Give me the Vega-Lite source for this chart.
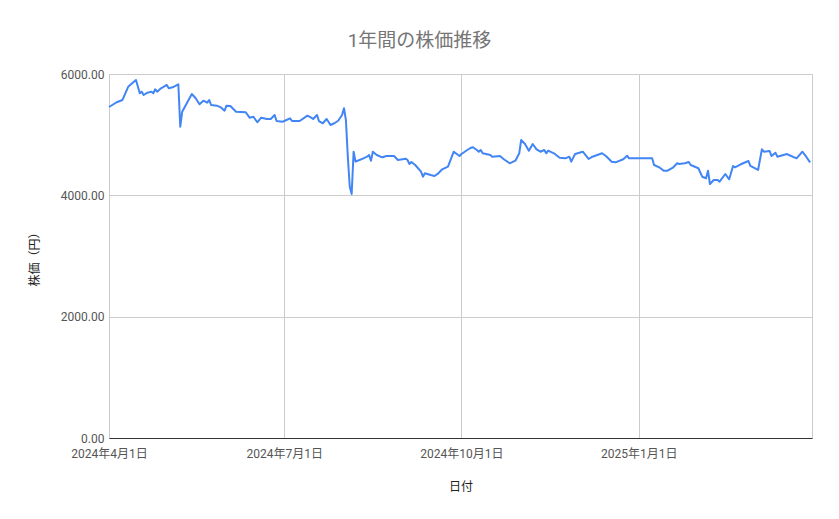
{
  "$schema": "https://vega.github.io/schema/vega-lite/v6.json",
  "width": 703,
  "height": 364,
  "autosize": {"type": "none"},
  "padding": {"left": 109, "top": 74, "right": 27, "bottom": 81},
  "background": "#ffffff",
  "config": {
    "font": "Roboto, Noto Sans CJK JP, sans-serif",
    "view": {"stroke": "#cccccc"},
    "axis": {"labelFont": "Roboto, Noto Sans CJK JP", "titleFont": "Roboto, Noto Sans CJK JP"}
  },
  "title": {
    "text": "1年間の株価推移",
    "anchor": "middle",
    "dx": -41,
    "offset": 17,
    "fontSize": 19,
    "fontWeight": "normal",
    "color": "#757575",
    "font": "Roboto, Noto Sans CJK JP"
  },
  "data": {
    "values": [
      {"date": "2024-04-01", "price": 5456},
      {"date": "2024-04-05", "price": 5534},
      {"date": "2024-04-08", "price": 5572},
      {"date": "2024-04-11", "price": 5791},
      {"date": "2024-04-13", "price": 5847},
      {"date": "2024-04-15", "price": 5902},
      {"date": "2024-04-17", "price": 5682},
      {"date": "2024-04-18", "price": 5709},
      {"date": "2024-04-19", "price": 5654},
      {"date": "2024-04-21", "price": 5692},
      {"date": "2024-04-23", "price": 5709},
      {"date": "2024-04-24", "price": 5682},
      {"date": "2024-04-25", "price": 5748},
      {"date": "2024-04-26", "price": 5709},
      {"date": "2024-04-28", "price": 5765},
      {"date": "2024-05-01", "price": 5819},
      {"date": "2024-05-02", "price": 5765},
      {"date": "2024-05-04", "price": 5781},
      {"date": "2024-05-07", "price": 5830},
      {"date": "2024-05-08", "price": 5131},
      {"date": "2024-05-09", "price": 5379},
      {"date": "2024-05-14", "price": 5670},
      {"date": "2024-05-16", "price": 5600},
      {"date": "2024-05-18", "price": 5501},
      {"date": "2024-05-20", "price": 5560},
      {"date": "2024-05-22", "price": 5527},
      {"date": "2024-05-23", "price": 5572},
      {"date": "2024-05-24", "price": 5489},
      {"date": "2024-05-27", "price": 5478},
      {"date": "2024-05-29", "price": 5451},
      {"date": "2024-05-31", "price": 5395},
      {"date": "2024-06-01", "price": 5478},
      {"date": "2024-06-03", "price": 5473},
      {"date": "2024-06-06", "price": 5379},
      {"date": "2024-06-11", "price": 5369},
      {"date": "2024-06-13", "price": 5280},
      {"date": "2024-06-15", "price": 5296},
      {"date": "2024-06-17", "price": 5204},
      {"date": "2024-06-19", "price": 5280},
      {"date": "2024-06-22", "price": 5258},
      {"date": "2024-06-24", "price": 5258},
      {"date": "2024-06-26", "price": 5324},
      {"date": "2024-06-27", "price": 5225},
      {"date": "2024-06-30", "price": 5214},
      {"date": "2024-07-01", "price": 5225},
      {"date": "2024-07-04", "price": 5270},
      {"date": "2024-07-05", "price": 5225},
      {"date": "2024-07-09", "price": 5225},
      {"date": "2024-07-13", "price": 5313},
      {"date": "2024-07-15", "price": 5280},
      {"date": "2024-07-16", "price": 5258},
      {"date": "2024-07-18", "price": 5324},
      {"date": "2024-07-19", "price": 5225},
      {"date": "2024-07-21", "price": 5188},
      {"date": "2024-07-23", "price": 5258},
      {"date": "2024-07-25", "price": 5159},
      {"date": "2024-07-27", "price": 5188},
      {"date": "2024-07-29", "price": 5230},
      {"date": "2024-07-31", "price": 5324},
      {"date": "2024-08-01", "price": 5435},
      {"date": "2024-08-02", "price": 5242},
      {"date": "2024-08-03", "price": 4637},
      {"date": "2024-08-04", "price": 4142},
      {"date": "2024-08-05", "price": 4022},
      {"date": "2024-08-06", "price": 4719},
      {"date": "2024-08-07", "price": 4555},
      {"date": "2024-08-10", "price": 4594},
      {"date": "2024-08-13", "price": 4637},
      {"date": "2024-08-14", "price": 4665},
      {"date": "2024-08-15", "price": 4571},
      {"date": "2024-08-16", "price": 4719},
      {"date": "2024-08-18", "price": 4665},
      {"date": "2024-08-20", "price": 4637},
      {"date": "2024-08-21", "price": 4627},
      {"date": "2024-08-23", "price": 4648},
      {"date": "2024-08-27", "price": 4648},
      {"date": "2024-08-29", "price": 4583},
      {"date": "2024-09-02", "price": 4604},
      {"date": "2024-09-03", "price": 4583},
      {"date": "2024-09-04", "price": 4517},
      {"date": "2024-09-05", "price": 4550},
      {"date": "2024-09-07", "price": 4500},
      {"date": "2024-09-10", "price": 4390},
      {"date": "2024-09-11", "price": 4307},
      {"date": "2024-09-12", "price": 4363},
      {"date": "2024-09-15", "price": 4335},
      {"date": "2024-09-17", "price": 4319},
      {"date": "2024-09-19", "price": 4363},
      {"date": "2024-09-21", "price": 4429},
      {"date": "2024-09-24", "price": 4472},
      {"date": "2024-09-25", "price": 4555},
      {"date": "2024-09-27", "price": 4719},
      {"date": "2024-09-30", "price": 4648},
      {"date": "2024-10-01", "price": 4681},
      {"date": "2024-10-04", "price": 4747},
      {"date": "2024-10-06", "price": 4785},
      {"date": "2024-10-07", "price": 4792},
      {"date": "2024-10-09", "price": 4747},
      {"date": "2024-10-10", "price": 4719},
      {"date": "2024-10-11", "price": 4747},
      {"date": "2024-10-12", "price": 4693},
      {"date": "2024-10-16", "price": 4665},
      {"date": "2024-10-17", "price": 4637},
      {"date": "2024-10-21", "price": 4648},
      {"date": "2024-10-23", "price": 4594},
      {"date": "2024-10-26", "price": 4528},
      {"date": "2024-10-29", "price": 4571},
      {"date": "2024-10-31", "price": 4693},
      {"date": "2024-11-01", "price": 4912},
      {"date": "2024-11-03", "price": 4846},
      {"date": "2024-11-05", "price": 4736},
      {"date": "2024-11-07", "price": 4846},
      {"date": "2024-11-09", "price": 4759},
      {"date": "2024-11-11", "price": 4719},
      {"date": "2024-11-13", "price": 4747},
      {"date": "2024-11-14", "price": 4693},
      {"date": "2024-11-15", "price": 4736},
      {"date": "2024-11-18", "price": 4693},
      {"date": "2024-11-21", "price": 4620},
      {"date": "2024-11-24", "price": 4610},
      {"date": "2024-11-26", "price": 4637},
      {"date": "2024-11-27", "price": 4555},
      {"date": "2024-11-29", "price": 4681},
      {"date": "2024-12-03", "price": 4719},
      {"date": "2024-12-06", "price": 4599},
      {"date": "2024-12-08", "price": 4637},
      {"date": "2024-12-13", "price": 4693},
      {"date": "2024-12-15", "price": 4648},
      {"date": "2024-12-18", "price": 4555},
      {"date": "2024-12-20", "price": 4544},
      {"date": "2024-12-24", "price": 4594},
      {"date": "2024-12-26", "price": 4653},
      {"date": "2024-12-27", "price": 4610},
      {"date": "2025-01-08", "price": 4610},
      {"date": "2025-01-09", "price": 4500},
      {"date": "2025-01-12", "price": 4456},
      {"date": "2025-01-14", "price": 4406},
      {"date": "2025-01-16", "price": 4406},
      {"date": "2025-01-19", "price": 4462},
      {"date": "2025-01-21", "price": 4528},
      {"date": "2025-01-22", "price": 4517},
      {"date": "2025-01-25", "price": 4528},
      {"date": "2025-01-27", "price": 4550},
      {"date": "2025-01-28", "price": 4500},
      {"date": "2025-02-01", "price": 4446},
      {"date": "2025-02-03", "price": 4307},
      {"date": "2025-02-05", "price": 4281},
      {"date": "2025-02-06", "price": 4406},
      {"date": "2025-02-07", "price": 4187},
      {"date": "2025-02-09", "price": 4253},
      {"date": "2025-02-11", "price": 4253},
      {"date": "2025-02-12", "price": 4225},
      {"date": "2025-02-15", "price": 4352},
      {"date": "2025-02-17", "price": 4264},
      {"date": "2025-02-19", "price": 4484},
      {"date": "2025-02-20", "price": 4462},
      {"date": "2025-02-23", "price": 4512},
      {"date": "2025-02-27", "price": 4566},
      {"date": "2025-02-28", "price": 4484},
      {"date": "2025-03-04", "price": 4418},
      {"date": "2025-03-06", "price": 4759},
      {"date": "2025-03-07", "price": 4719},
      {"date": "2025-03-10", "price": 4731},
      {"date": "2025-03-11", "price": 4648},
      {"date": "2025-03-13", "price": 4703},
      {"date": "2025-03-14", "price": 4637},
      {"date": "2025-03-19", "price": 4681},
      {"date": "2025-03-20", "price": 4665},
      {"date": "2025-03-24", "price": 4610},
      {"date": "2025-03-27", "price": 4719},
      {"date": "2025-03-29", "price": 4637},
      {"date": "2025-03-31", "price": 4544}
    ]
  },
  "mark": {"type": "line", "color": "#4285f4", "strokeWidth": 2, "strokeJoin": "round"},
  "encoding": {
    "x": {
      "field": "date",
      "type": "temporal",
      "title": "日付",
      "scale": {"domain": ["2024-04-01", "2025-04-01"], "nice": false},
      "axis": {
        "values": ["2024-04-01", "2024-07-01", "2024-10-01", "2025-01-01"],
        "format": "%Y年%-m月%-d日",
        "labelExpr": "timeFormat(datum.value, '%Y年%-m月%-d日')",
        "grid": true,
        "gridColor": "#cccccc",
        "domainColor": "#333333",
        "ticks": false,
        "labelPadding": 10,
        "labelFontSize": 12,
        "labelColor": "#555555",
        "labelFlush": false,
        "titleFontSize": 12,
        "titleFontWeight": "normal",
        "titleColor": "#222222",
        "titlePadding": 22
      }
    },
    "y": {
      "field": "price",
      "type": "quantitative",
      "title": "株価（円）",
      "scale": {"domain": [0, 6000], "nice": false},
      "axis": {
        "values": [0, 2000, 4000, 6000],
        "format": ".2f",
        "grid": true,
        "gridColor": "#cccccc",
        "domain": false,
        "ticks": false,
        "labelPadding": 5,
        "labelFontSize": 12,
        "labelColor": "#555555",
        "titleFontSize": 12,
        "titleFontWeight": "normal",
        "titleColor": "#222222",
        "titlePadding": 19
      }
    }
  }
}
